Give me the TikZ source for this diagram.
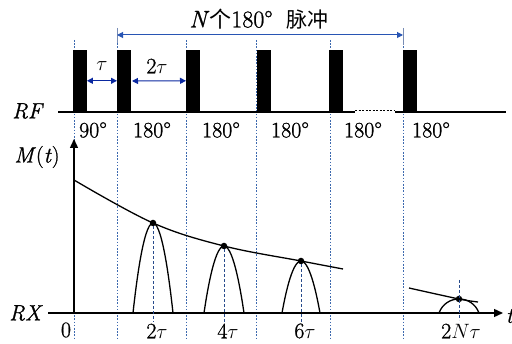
\documentclass[tikz,border=0pt]{standalone}
\usepackage{fontspec}
\setmainfont{Latin Modern Roman}[FakeBold=1]
\newfontfamily\cjk{Noto Sans CJK SC}
\usetikzlibrary{arrows.meta}
\definecolor{guideblue}{RGB}{60,105,175}
\definecolor{arrowblue}{RGB}{10,40,160}
\definecolor{toparrow}{RGB}{40,85,180}
\definecolor{tickgrey}{RGB}{120,140,180}
\definecolor{echoblue}{RGB}{40,75,140}
\newcommand{\tu}{$\tau$}
\begin{document}
\begin{tikzpicture}[x=1pt,y=-1pt,font=\fontsize{22}{24}\selectfont,
  pulse/.style={fill=black,draw=none,inner sep=0pt,minimum width=13.5pt,minimum height=62pt,anchor=south west},
  guide/.style={draw=guideblue,line width=0.8pt,dash pattern=on 1.6pt off 1.6pt},
  echoline/.style={draw=echoblue,line width=0.8pt,dash pattern=on 3pt off 2pt},
  dimarrow/.style={draw=arrowblue,line width=1pt,{Triangle[length=6pt,width=6pt]}-{Triangle[length=6pt,width=6pt]}},
  toparr/.style={draw=toparrow,line width=1pt,{Triangle[length=6pt,width=6pt]}-{Triangle[length=6pt,width=6pt]}},
  tickline/.style={draw=tickgrey,line width=0.8pt},
  axis/.style={line width=1.4pt,-{Triangle[length=9pt,width=8pt]}},
  curve/.style={line width=1.3pt},
  dot/.style={circle,fill=black,inner sep=0pt,minimum size=6.5pt},
  lab/.style={inner sep=0pt}]
\useasboundingbox (0,0) rectangle (512,344);
% guides
\foreach \x in {74,117,186,256,330,403} \draw[guide] (\x,40) -- (\x,340);
% RF baseline
\draw[line width=1.6pt] (58,112) -- (355,112);
\draw[line width=1pt,dash pattern=on 2pt off 1.5pt] (355,111) -- (395,111);
\draw[line width=1.6pt] (395,112) -- (506,112);
% pulses
\foreach \i/\x in {1/73,2/117,3/186,4/257,5/329,6/403} \node[pulse] (p\i) at (\x,112) {};
% top arrow
\coordinate (ta) at (117,35);
\coordinate (tb) at (403,35);
\draw[tickline] (117,28) -- (117,43);
\draw[tickline] (403,28) -- (403,45);
\draw[toparr] (ta) -- (tb);
\node[lab] (ttl) at (259,19) {\fontsize{24}{26}\selectfont\textit{N}{\cjk\fontsize{22}{24}\selectfont 个}180°\hspace{14pt}{\cjk\fontsize{21}{24}\selectfont 脉冲}};
% tau arrows
\draw[dimarrow] (p1.east) -- (p2.west);
\coordinate (ua) at (132,81);
\draw[dimarrow] (ua) -- (p3.west);
\node[lab] (tau1) at (102,66) {\tu};
\node[lab] (tau2) at (157,66) {2\tu};
% angle labels
\node[lab] (a1) at (93,130) {90°};
\node[lab] (a2) at (152,130) {180°};
\node[lab] (a3) at (221,130) {180°};
\node[lab] (a4) at (290,130) {180°};
\node[lab] (a5) at (363,130) {180°};
\node[lab] (a6) at (431,130) {180°};
\node[lab] (rf) at (28,111) {\textit{RF}};
% axes
\coordinate (o) at (74,313);
\coordinate (ytop) at (74,139);
\coordinate (xl) at (48,313);
\coordinate (xr) at (503,313);
\draw[axis] (o) -- (ytop);
\draw[axis] (xl) -- (xr);
\node[lab] (mt) at (37,157) {\textit{M}(\textit{t})};
\node[lab] (rx) at (26,313) {\textit{RX}};
\node[lab] (zero) at (66,330) {0};
\node[lab] (tl) at (510,316) {\textit{t}};
% decay curves
\draw[curve] plot[smooth,tension=0.6] coordinates {(74,180) (153,223) (224,246) (301,261) (343,269)};
\draw[curve] plot[smooth] coordinates {(409,288) (459,299) (478,302)};
% echoes
\draw[curve] (133,313) parabola bend (153,223) (173,313);
\draw[curve] (204,313) parabola bend (224,246) (244,313);
\draw[curve] (282,313) parabola bend (301,261) (320,313);
\draw[curve] (439,313) .. controls (446,294.3) and (472,294.3) .. (479,313);
% dots
\node[dot] (e1) at (153,223) {};
\node[dot] (e2) at (224,246) {};
\node[dot] (e3) at (301,261) {};
\node[dot] (e4) at (459,299) {};
% echo dashed lines
\coordinate (b1) at (153,322);
\coordinate (b2) at (224,322);
\coordinate (b3) at (301,322);
\coordinate (b4t) at (459,280);
\coordinate (b4) at (459,320);
\draw[echoline] (e1) -- (b1);
\draw[echoline] (e2) -- (b2);
\draw[echoline] (e3) -- (b3);
\draw[echoline] (b4t) -- (b4);
\node[lab] (l1) at (157,331) {2\tu};
\node[lab] (l2) at (228,331) {4\tu};
\node[lab] (l3) at (305,331) {6\tu};
\node[lab] (l4) at (461,331) {2$N\tau$};
\end{tikzpicture}
\end{document}
